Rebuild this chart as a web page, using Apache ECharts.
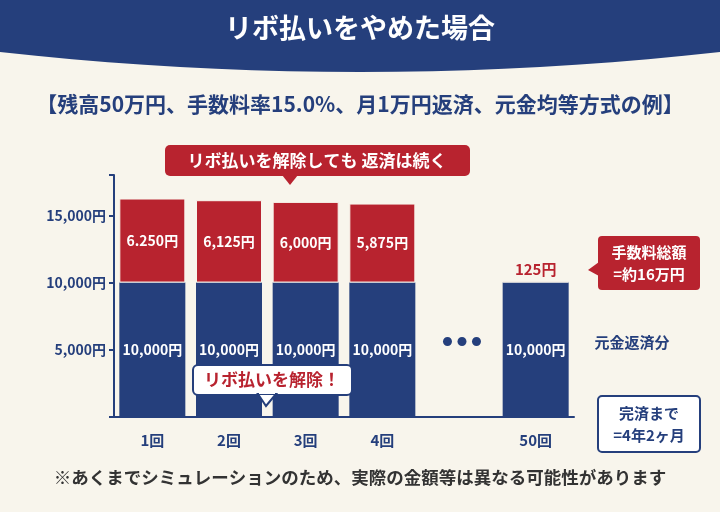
<!DOCTYPE html>
<html><head><meta charset="utf-8">
<script src="https://cdn.jsdelivr.net/npm/echarts@6/dist/echarts.min.js"></script>
<style>html,body{margin:0;padding:0;background:#f8f5ec}#c{width:720px;height:512px}</style>
</head><body><div id="c"></div>
<script>
var categories = ['1回', '2回', '3回', '4回', '', '50回'];
var principal = [10000, 10000, 10000, 10000, '-', 10000];
var fees = [6250, 6125, 6000, 5875, '-', 125];
var feeLabels = ['6.250円', '6,125円', '6,000円', '5,875円', '', '125円'];
var yTicks = [5000, 10000, 15000];

var navy = '#253f7c', red = '#b8232f';
var font = '"Noto Sans CJK JP", sans-serif';
var chart = echarts.init(document.getElementById('c'));

// banner shape with a curved bottom edge
var banner = [[0, 0], [720, 0]];
for (var k = 20; k >= 0; k--) {
  var t = k / 20;
  banner.push([720 * t, 52 + 80 * t * (1 - t)]);
}

chart.setOption({
  backgroundColor: '#f8f5ec',
  textStyle: { fontFamily: font },
  grid: { left: 114, right: 146, top: 175, bottom: 95 },
  xAxis: {
    type: 'category', data: categories,
    axisLine: { lineStyle: { color: navy, width: 2 } },
    axisTick: { show: false },
    axisLabel: { color: navy, fontWeight: 'bold', fontSize: 15, margin: 16, fontFamily: font }
  },
  yAxis: {
    type: 'value', min: 0, max: 18000, interval: 5000,
    splitLine: { show: false },
    axisLine: { show: true, lineStyle: { color: navy, width: 2 } },
    axisTick: { show: true, length: 5, lineStyle: { color: navy, width: 2 } },
    axisLabel: {
      color: navy, fontWeight: 'bold', fontSize: 14, fontFamily: font,
      formatter: function (v) { return yTicks.indexOf(v) >= 0 ? v.toLocaleString('en-US') + '円' : ''; }
    }
  },
  series: [{
    type: 'bar', stack: 's', data: principal, barWidth: 66,
    itemStyle: { color: navy },
    label: { show: true, position: 'inside', color: '#fff', fontWeight: 'bold', fontSize: 14,
      fontFamily: font, formatter: function (p) { return p.value.toLocaleString('en-US') + '円'; } }
  }, {
    type: 'bar', stack: 's', barWidth: 66,
    data: fees.map(function (v, i) {
      if (i === 5) return { value: v, label: { position: 'top', color: red, fontSize: 15, distance: 4 } };
      return v;
    }),
    itemStyle: { color: red, borderColor: '#f8f5ec', borderWidth: 1 },
    label: { show: true, position: 'inside', color: '#fff', fontWeight: 'bold', fontSize: 14,
      fontFamily: font, formatter: function (p) { return feeLabels[p.dataIndex]; } }
  }],
  graphic: { elements: [
    { type: 'polygon', z: 100, shape: { points: banner }, style: { fill: navy } },
    { type: 'text', z: 101, left: 'center', top: 14, style: { text: 'リボ払いをやめた場合', fill: '#fff', font: 'bold 27px ' + font } },
    { type: 'text', z: 101, left: 'center', top: 94, style: { text: '【残高50万円、手数料率15.0%、月1万円返済、元金均等方式の例】', fill: navy, font: 'bold 21px ' + font } },
    { type: 'rect', z: 100, shape: { x: 165, y: 145, width: 305, height: 31, r: 5 }, style: { fill: red } },
    { type: 'polygon', z: 100, shape: { points: [[282, 175], [298, 175], [290, 185]] }, style: { fill: red } },
    { type: 'text', z: 101, x: 317, y: 161, style: { text: 'リボ払いを解除しても 返済は続く', fill: '#fff', font: 'bold 17px ' + font, align: 'center', verticalAlign: 'middle' } },
    { type: 'rect', z: 100, shape: { x: 193, y: 365, width: 159, height: 30, r: 5 }, style: { fill: '#fff', stroke: navy, lineWidth: 2 } },
    { type: 'polygon', z: 100, shape: { points: [[258, 394], [276, 394], [266, 406]] }, style: { fill: '#fff', stroke: navy, lineWidth: 2 } },
    { type: 'rect', z: 101, shape: { x: 259, y: 390, width: 16, height: 4 }, style: { fill: '#fff' } },
    { type: 'text', z: 101, x: 272, y: 380, style: { text: 'リボ払いを解除！', fill: red, font: 'bold 17px ' + font, align: 'center', verticalAlign: 'middle' } },
    { type: 'text', z: 101, x: 462, y: 342, style: { text: '●  ●  ●', fill: navy, font: '10px ' + font, align: 'center', verticalAlign: 'middle' } },
    { type: 'rect', z: 100, shape: { x: 598, y: 236, width: 102, height: 54, r: 4 }, style: { fill: red } },
    { type: 'polygon', z: 100, shape: { points: [[599, 262], [599, 276], [588, 270]] }, style: { fill: red } },
    { type: 'text', z: 101, x: 649, y: 263, style: { text: '手数料総額\n=約16万円', fill: '#fff', font: 'bold 15px ' + font, lineHeight: 22, align: 'center', verticalAlign: 'middle' } },
    { type: 'text', z: 101, x: 632, y: 342, style: { text: '元金返済分', fill: navy, font: 'bold 15px ' + font, align: 'center', verticalAlign: 'middle' } },
    { type: 'rect', z: 100, shape: { x: 598, y: 396, width: 102, height: 56, r: 4 }, style: { fill: '#fff', stroke: navy, lineWidth: 2 } },
    { type: 'text', z: 101, x: 649, y: 424, style: { text: '完済まで\n=4年2ヶ月', fill: navy, font: 'bold 15px ' + font, lineHeight: 22, align: 'center', verticalAlign: 'middle' } },
    { type: 'text', z: 101, left: 'center', top: 469, style: { text: '※あくまでシミュレーションのため、実際の金額等は異なる可能性があります', fill: '#333', font: 'bold 17.5px ' + font } }
  ] }
});
</script></body></html>
